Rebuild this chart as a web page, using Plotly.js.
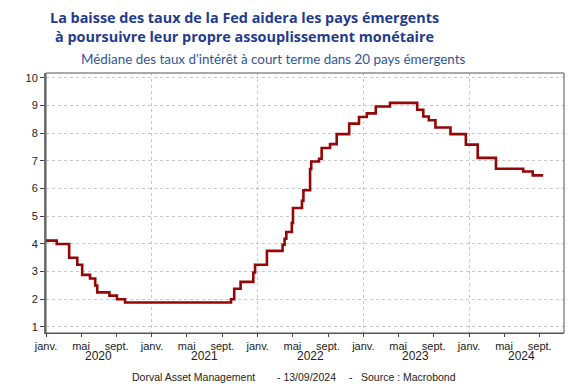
<!DOCTYPE html>
<html><head><meta charset="utf-8">
<script src="https://cdn.plot.ly/plotly-3.0.1.min.js"></script>
<style>html,body{margin:0;padding:0;background:#fff}#c{width:574px;height:387px}</style>
</head><body><div id="c"></div>
<script>
// Step changes: date of change and new median rate (%)
const stepDates = ["2020-01-01","2020-02-07","2020-03-21","2020-04-18","2020-05-05","2020-06-01","2020-06-19","2020-06-26","2020-08-07","2020-09-02","2020-09-30",
 "2021-10-01","2021-10-12","2021-11-03","2021-12-17","2021-12-23",
 "2022-02-02","2022-03-28","2022-04-04","2022-04-10","2022-04-29","2022-05-03","2022-06-03","2022-06-08","2022-07-01","2022-07-05","2022-08-01","2022-08-10","2022-09-08","2022-10-01","2022-11-13","2022-12-17",
 "2023-01-13","2023-02-13","2023-04-03","2023-07-06","2023-07-27","2023-08-15","2023-09-07","2023-10-29","2023-12-21",
 "2024-01-31","2024-04-03","2024-07-06","2024-08-08","2024-09-13"];
const stepValues = [4.12,4.00,3.50,3.25,2.88,2.75,2.50,2.25,2.13,2.00,1.88,
 2.00,2.38,2.63,2.97,3.25,
 3.75,3.97,4.19,4.43,4.76,5.30,5.56,5.94,6.71,6.98,7.08,7.47,7.61,7.97,8.35,8.59,
 8.72,8.97,9.10,8.85,8.61,8.47,8.21,7.97,7.59,
 7.11,6.72,6.62,6.48,6.48];

const xTickVals = ["2020-01-01","2020-05-01","2020-09-01","2021-01-01","2021-05-01","2021-09-01","2022-01-01","2022-05-01","2022-09-01","2023-01-01","2023-05-01","2023-09-01","2024-01-01","2024-05-01","2024-09-01"];
const xTickText = ["janv.","mai","sept.","janv.","mai","sept.","janv.","mai","sept.","janv.","mai","sept.","janv.","mai","sept."];
const yearGridVals = ["2021-01-01","2022-01-01","2023-01-01","2024-01-01"];
const years = ["2020","2021","2022","2023","2024"];
const yTickVals = [1,2,3,4,5,6,7,8,9,10];

const titleLines = ["La baisse des taux de la Fed aidera les pays émergents","à poursuivre leur propre assouplissement monétaire"];
const subtitle = "Médiane des taux d'intérêt à court terme dans 20 pays émergents";
const footer = ["Dorval Asset Management","- 13/09/2024","-","Source : Macrobond"];

const tickFont = {family:"Liberation Sans, Arial, sans-serif", size:11, color:"#222"};

const trace = {
  x: stepDates, y: stepValues, type:"scatter", mode:"lines",
  line:{shape:"hv", color:"#950606", width:2.6},
  hoverinfo:"skip", xaxis:"x", yaxis:"y"
};
// invisible trace on gridline axis
const gridTrace = {x:[stepDates[0]], y:[stepValues[0]], type:"scatter", mode:"none", xaxis:"x2", yaxis:"y", hoverinfo:"skip", showlegend:false};

const annotations = [];
annotations.push({text:"<b>"+titleLines[0]+"</b><br><b>"+titleLines[1]+"</b>", xref:"paper", yref:"paper", x:0.384, y:1.178, xanchor:"center", yanchor:"middle", align:"center", showarrow:false, font:{family:"Open Sans, sans-serif", size:14.4, color:"#1f3b8e"}});
annotations.push({text:subtitle, xref:"paper", yref:"paper", x:0.438, y:1.054, xanchor:"center", yanchor:"middle", showarrow:false, font:{family:"Lato, sans-serif", size:13.4, color:"#2f5597"}});
years.forEach(yy => annotations.push({text:yy, xref:"x", yref:"paper", x:yy+"-07-01", y:-0.088, xanchor:"center", yanchor:"middle", showarrow:false, font:{family:"Liberation Sans, Arial, sans-serif", size:12, color:"#222"}}));
const footerX = [130, 275, 347, 359];
footer.forEach((t,i) => annotations.push({text:t, xref:"paper", yref:"paper", x:(footerX[i]-46)/518, y:-0.169, xanchor:"left", yanchor:"middle", showarrow:false, font:{family:"Liberation Sans, Arial, sans-serif", size:10.5, color:"#222"}}));

const layout = {
  width:574, height:387,
  margin:{l:46, r:10, t:73, b:54, pad:0},
  paper_bgcolor:"#fff", plot_bgcolor:"#fff",
  showlegend:false,
  xaxis:{type:"date", range:["2020-01-01","2024-11-24"], tickmode:"array", tickvals:xTickVals, ticktext:xTickText,
    ticks:"outside", ticklen:3, tickcolor:"#444", tickfont:tickFont, showgrid:false, zeroline:false,
    showline:true, linecolor:"#555", linewidth:1, fixedrange:true},
  xaxis2:{type:"date", overlaying:"x", matches:"x", range:["2020-01-01","2024-11-24"], tickmode:"array", tickvals:yearGridVals,
    showticklabels:false, ticks:"", showgrid:true, gridcolor:"#c8c8c8", griddash:"3px,3px", gridwidth:1, zeroline:false, showline:false, side:"bottom"},
  yaxis:{range:[0.78,10.18], tickmode:"array", tickvals:yTickVals, ticks:"outside", ticklen:4, tickcolor:"#444",
    tickfont:tickFont, showgrid:true, gridcolor:"#c8c8c8", griddash:"3px,3px", gridwidth:1, zeroline:false,
    showline:true, linecolor:"#777", linewidth:2, fixedrange:true},
  shapes:[{type:"rect", xref:"paper", yref:"paper", x0:0, x1:1, y0:0, y1:1, line:{color:"#555", width:1}, layer:"above"}],
  annotations: annotations
};
Plotly.newPlot("c", [gridTrace, trace], layout, {staticPlot:true, displayModeBar:false});
</script></body></html>
